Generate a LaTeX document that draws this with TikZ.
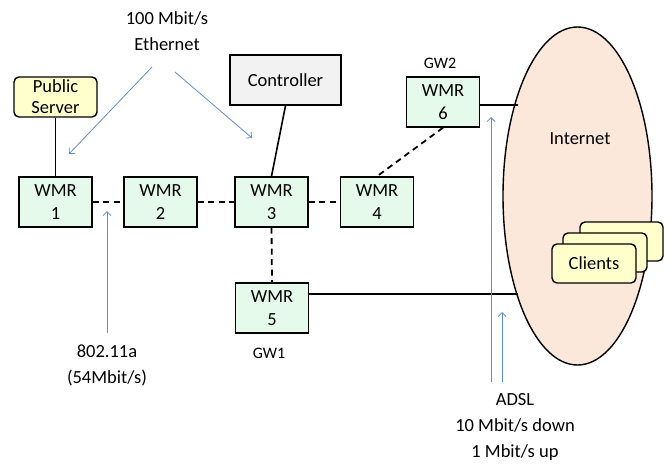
\documentclass[tikz,border=0pt]{standalone}
\usepackage{fontspec}
\setmainfont{Carlito}
\usetikzlibrary{arrows.meta,shapes.geometric}
\definecolor{wmrfill}{RGB}{229,250,234}
\definecolor{srvfill}{RGB}{255,255,204}
\definecolor{ctrlfill}{RGB}{242,242,242}
\definecolor{netfill}{RGB}{252,232,218}
\definecolor{bluearr}{RGB}{95,142,208}
\begin{document}
\begin{tikzpicture}[x=1pt,y=-1pt,
  wmr/.style={draw, line width=1.4pt, fill=wmrfill, minimum width=73pt, minimum height=50pt, inner sep=0pt, align=center, font=\fontsize{18.5}{23}\selectfont},
  ybox/.style={draw, line width=1.4pt, fill=srvfill, rounded corners=5pt, inner sep=0pt, align=center, font=\fontsize{18.5}{21}\selectfont},
  lbl/.style={align=center, inner sep=0pt, font=\fontsize{18.5}{26}\selectfont},
  gw/.style={inner sep=0pt, font=\fontsize{16}{18}\selectfont},
  wire/.style={line width=1.6pt},
  radio/.style={line width=1.8pt, dash pattern=on 6pt off 4.5pt},
  note/.style={draw=bluearr, line width=0.8pt, -{Straight Barb[length=4pt,width=8pt]}}
]
\useasboundingbox (0,0) rectangle (670,466);

% Internet
\node[ellipse, draw, line width=1.4pt, fill=netfill, minimum width=149pt, minimum height=338pt, inner sep=0pt] (inet) at (577.5,196) {};
\node[lbl] (inettxt) at (580,139) {Internet};

% clients
\node[ybox, minimum width=83pt, minimum height=39pt] (cl3) at (621.5,241.5) {};
\node[ybox, minimum width=84pt, minimum height=39pt] (cl2) at (605,252.5) {};
\node[ybox, minimum width=84pt, minimum height=39pt] (cl1) at (594,263.5) {Clients};

% nodes
\node[ybox, minimum width=83pt, minimum height=40pt] (ps) at (55.5,97) {Public\\Server};
\node[draw, line width=1.4pt, fill=ctrlfill, minimum width=111pt, minimum height=50pt, inner sep=0pt, font=\fontsize{18.5}{21}\selectfont] (ctrl) at (285.5,80) {Controller};

\node[wmr] (w1) at (55.5,202) {WMR\\1};
\node[wmr] (w2) at (160.5,202) {WMR\\2};
\node[wmr] (w3) at (271.5,202) {WMR\\3};
\node[wmr] (w4) at (377,202) {WMR\\4};
\node[wmr] (w6) at (443,102) {WMR\\6};
\node[wmr] (w5) at (272,308) {WMR\\5};

\node[gw] (gw2) at (440,63) {GW2};
\node[gw] (gw1) at (269,353) {GW1};

% wired
\draw[wire] (ps.south) -- (w1.north);
\draw[wire] (ctrl.south) -- (w3.north);
\coordinate (e6) at (518,105);
\coordinate (e5) at (518,294);
\draw[wire] (w6.east |- e6) -- (e6);
\draw[wire] (w5.east |- e5) -- (e5);

% wireless
\draw[radio] (w1.east) -- (w2.west);
\draw[radio] (w2.east) -- (w3.west);
\draw[radio] (w3.east) -- (w4.west);
\draw[radio] (w3.south) -- (w5.north);
\draw[radio] (w6.south) -- (w4.north);

% labels and blue arrows
\node[lbl] (eth) at (167,31) {100 Mbit/s\\Ethernet};
\coordinate (ea1) at (152,67);
\coordinate (eb1) at (69,154);
\coordinate (ea2) at (175,72);
\coordinate (eb2) at (252,138);
\draw[note] (ea1) -- (eb1);
\draw[note] (ea2) -- (eb2);

\node[lbl] (wifi) at (107,365) {802.11a\\(54Mbit/s)};
\coordinate (wa) at (107,333);
\coordinate (wb) at (107,211);
\draw[note] (wa) -- (wb);

\node[lbl] (adsl) at (515,427) {ADSL\\10 Mbit/s down\\1 Mbit/s up};
\coordinate (da1) at (491,382);
\coordinate (db1) at (491,117);
\coordinate (da2) at (502,382);
\coordinate (db2) at (502,312);
\draw[note] (da1) -- (db1);
\draw[note] (da2) -- (db2);
\end{tikzpicture}
\end{document}
